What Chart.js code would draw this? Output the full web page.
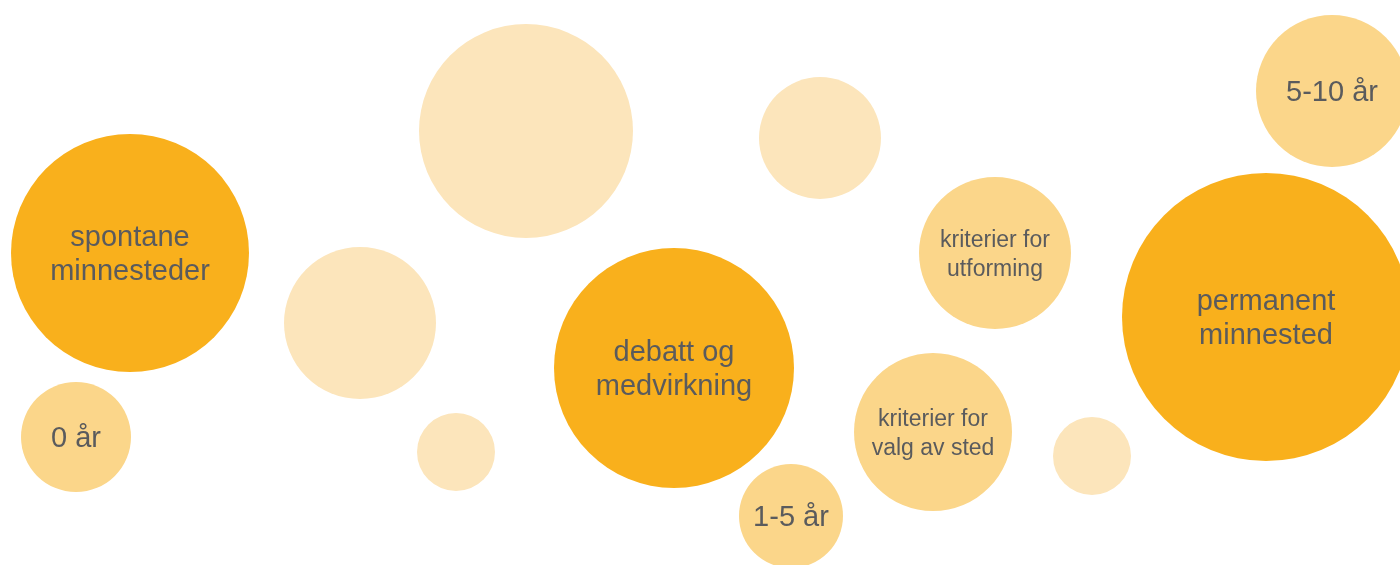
<!DOCTYPE html>
<html>
<head>
<meta charset="utf-8">
<script src="https://cdn.jsdelivr.net/npm/chart.js@4/dist/chart.umd.min.js"></script>
<style>
  html, body { margin: 0; padding: 0; background: #fff; }
  #wrap { width: 1400px; height: 565px; }
</style>
</head>
<body>
<div id="wrap"><canvas id="bubbles"></canvas></div>
<script>
// ── Data ──────────────────────────────────────────────────────────────
const bubbleLabels = [
    'spontane\nminnesteder', '0 år', '', '', '',
    'debatt og\nmedvirkning', '', '1-5 år', 'kriterier for\nutforming',
    'kriterier for\nvalg av sted', '', 'permanent\nminnested', '5-10 år',
];
const bubbleX = [130, 76, 360, 526, 456, 674, 820, 791, 995, 933, 1092, 1266, 1332];
const bubbleY = [253, 437, 323, 131, 452, 368, 138, 516, 253, 432, 456, 317, 91];
const bubbleR = [119, 55, 76, 107, 39, 120, 61, 52, 76, 79, 39, 144, 76];
// 0 = strong, 1 = mid, 2 = pale
const bubbleTone = [0, 1, 2, 2, 2, 0, 2, 1, 1, 1, 2, 0, 1];
const bigText = [true, true, false, false, false, true, false, true, false, false, false, true, true];

const TONES = ['#F9B01C', '#FBD68A', '#FCE5BB'];
const TEXT_COLOR = '#5A5B5D';
const FONT = '"Liberation Sans", Arial, sans-serif';

// ── Labels plugin ─────────────────────────────────────────────────────
const bubbleText = {
    id: 'bubbleText',
    afterDatasetsDraw(chart) {
        const { ctx } = chart;
        const meta = chart.getDatasetMeta(0);
        ctx.save();
        ctx.fillStyle = TEXT_COLOR;
        ctx.textAlign = 'center';
        ctx.textBaseline = 'alphabetic';
        meta.data.forEach((pt, i) => {
            const txt = bubbleLabels[i];
            if (!txt) return;
            const lines = txt.split('\n');
            const size = bigText[i] ? 29 : 23;
            const lh = bigText[i] ? 34 : 29;
            ctx.font = `${size}px ${FONT}`;
            const first = pt.y - (lines.length - 1) * lh / 2 + size * 0.36;
            lines.forEach((ln, j) => ctx.fillText(ln, pt.x, first + j * lh));
        });
        ctx.restore();
    },
};

// ── Chart ─────────────────────────────────────────────────────────────
new Chart(document.getElementById('bubbles'), {
    type: 'bubble',
    data: {
        datasets: [{
            data: bubbleX.map((x, i) => ({ x, y: bubbleY[i], r: bubbleR[i] })),
            backgroundColor: bubbleTone.map(t => TONES[t]),
            borderWidth: 0,
            hoverRadius: 0,
            hoverBorderWidth: 0,
            clip: false,
        }],
    },
    options: {
        responsive: true,
        maintainAspectRatio: false,
        animation: false,
        events: [],
        layout: { padding: 0, autoPadding: false },
        plugins: {
            legend: { display: false },
            tooltip: { enabled: false },
        },
        scales: {
            x: { type: 'linear', min: 0, max: 1400, display: false },
            y: { type: 'linear', min: 0, max: 565, reverse: true, display: false },
        },
    },
    plugins: [bubbleText],
});
</script>
</body>
</html>
